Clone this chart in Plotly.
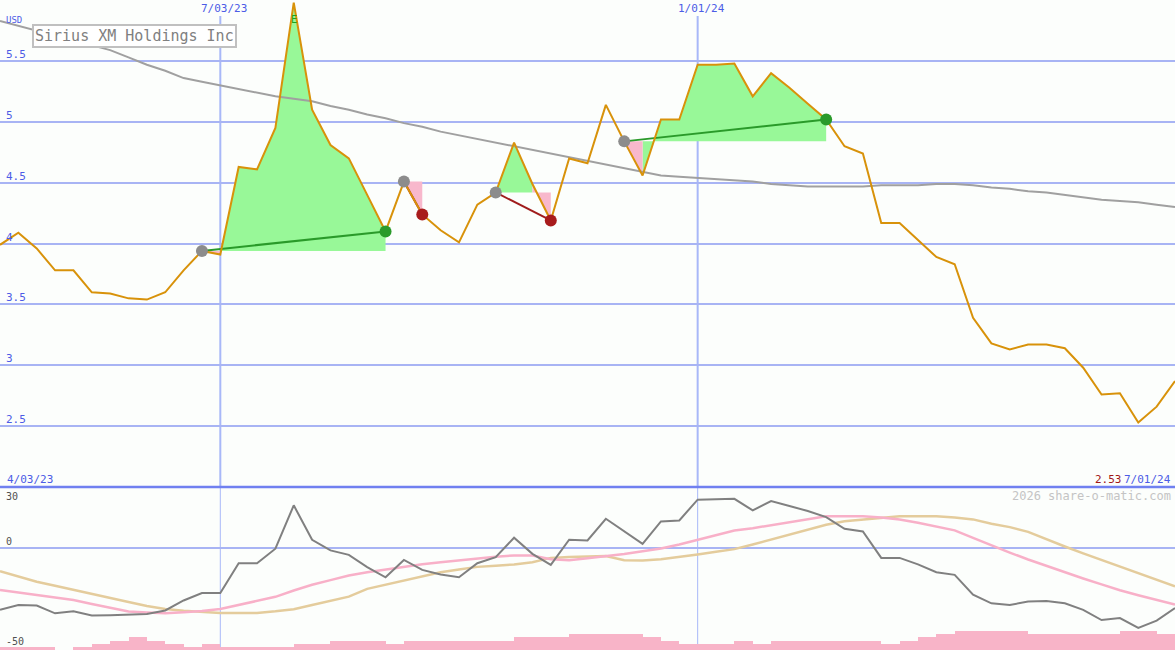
import pandas as pd
import plotly.graph_objects as go

# ---------------- data ----------------
start_date = "2023-04-10"
n_weeks = 65
dates = pd.date_range(start_date, periods=n_weeks, freq="7D")

price = [3.99, 4.09, 3.96, 3.78, 3.78, 3.60, 3.59, 3.55, 3.54, 3.60,
         3.78, 3.94, 3.91, 4.63, 4.61, 4.95, 5.98, 5.10, 4.81, 4.70,
         4.40, 4.10, 4.51, 4.24, 4.11, 4.01, 4.32, 4.42, 4.83, 4.49,
         4.19, 4.70, 4.66, 5.14, 4.84, 4.56, 5.02, 5.02, 5.47, 5.47,
         5.48, 5.21, 5.40, 5.28, 5.15, 5.02, 4.80, 4.74, 4.17, 4.17,
         4.03, 3.89, 3.83, 3.39, 3.18, 3.13, 3.17, 3.17, 3.14, 2.98,
         2.76, 2.77, 2.53, 2.66, 2.87]

moving_avg = [5.83, 5.79, 5.75, 5.71, 5.67, 5.63, 5.59, 5.53, 5.47, 5.42,
              5.36, 5.33, 5.30, 5.27, 5.24, 5.21, 5.19, 5.17, 5.13, 5.10,
              5.06, 5.03, 4.99, 4.96, 4.92, 4.89, 4.86, 4.83, 4.80, 4.77,
              4.74, 4.71, 4.68, 4.65, 4.62, 4.59, 4.56, 4.55, 4.54, 4.53,
              4.52, 4.51, 4.49, 4.48, 4.47, 4.47, 4.47, 4.47, 4.48, 4.48,
              4.48, 4.49, 4.49, 4.48, 4.46, 4.45, 4.43, 4.42, 4.40, 4.38,
              4.36, 4.35, 4.34, 4.32, 4.30]

oscillator = [-30.3, -27.9, -28.2, -32.0, -31.0, -33.1, -32.9, -32.6, -32.3, -30.6,
              -25.7, -22.0, -22.0, -7.4, -7.4, -0.3, 21.0, 4.1, -1.1, -3.3,
              -9.3, -14.3, -5.8, -10.7, -12.9, -14.3, -7.4, -4.4, 5.1, -2.8,
              -8.2, 4.1, 3.8, 14.4, 8.4, 2.1, 13.1, 13.6, 23.8, 24.1,
              24.2, 18.5, 23.1, 20.7, 18.2, 15.2, 9.5, 8.2, -4.8, -4.8,
              -8.0, -11.8, -13.1, -22.8, -27.1, -27.9, -26.2, -25.9, -27.1, -30.3,
              -35.3, -34.3, -39.2, -35.6, -29.4]

osc_fast = [-20.5, -21.7, -23.0, -24.3, -25.5, -27.4, -29.4, -31.1, -31.6, -32.0,
            -31.5, -30.9, -29.9, -28.0, -25.9, -23.9, -20.8, -18.0, -15.7, -13.4,
            -11.8, -10.4, -9.0, -7.9, -6.9, -5.9, -4.9, -4.2, -3.6, -3.6,
            -5.5, -6.0, -5.0, -4.0, -2.9, -1.5, -0.2, 1.8, 4.1, 6.2,
            8.6, 9.8, 11.3, 12.5, 14.3, 15.6, 15.6, 15.6, 15.0, 14.1,
            12.5, 10.6, 8.7, 5.0, 1.3, -2.2, -5.6, -8.8, -11.8, -14.9,
            -17.8, -20.7, -23.1, -25.3, -27.7]

osc_slow = [-11.3, -13.8, -16.5, -18.5, -20.4, -22.5, -24.4, -26.4, -28.4, -29.9,
            -30.7, -31.3, -31.8, -31.8, -31.8, -31.0, -30.0, -27.9, -25.9, -23.8,
            -20.0, -17.9, -15.8, -13.7, -11.8, -10.5, -9.2, -8.6, -8.0, -6.9,
            -4.8, -4.3, -4.0, -3.9, -5.9, -6.1, -5.5, -4.4, -3.1, -1.8,
            -0.5, 1.8, 4.2, 6.5, 9.0, 11.5, 13.2, 14.1, 15.0, 15.7,
            15.7, 15.7, 15.0, 14.1, 12.0, 10.3, 8.0, 4.3, 0.8, -2.6,
            -5.8, -9.0, -12.2, -15.3, -18.8]

volume_level = [1, 1, 1, 0, 1, 2, 3, 4, 3, 2,
                1, 2, 1, 1, 1, 1, 2, 2, 3, 3,
                3, 2, 3, 3, 3, 3, 3, 3, 4, 4,
                4, 5, 5, 5, 5, 4, 3, 2, 2, 2,
                3, 2, 3, 3, 3, 3, 3, 3, 2, 3,
                4, 5, 6, 6, 6, 6, 5, 5, 5, 5,
                5, 6, 6, 5, 5]

entry_idx = [11, 22, 27, 34]
exit_idx = [21, 23, 30, 45]

price_ticks = [2.5, 3.0, 3.5, 4.0, 4.5, 5.0, 5.5]
price_tick_labels = ["2.5", "3", "3.5", "4", "4.5", "5", "5.5"]
vline_dates = ["2023-07-03", "2024-01-01"]
vline_labels = ["7/03/23", "1/01/24"]
start_label = "4/03/23"
end_label = "7/01/24"
title = "Sirius XM Holdings Inc"
event_idx = 16
event_label = "E"

# ---------------- styles ----------------
W, H = 1175, 650
LOWER_H = 163
split = LOWER_H / H
BG = "#fcfefc"
GRID = "#a8b4f4"
BLUE_TXT = "#4c5ce6"
GREEN_FILL = "#98f898"
PINK_FILL = "#f8b8cc"
MONO = "DejaVu Sans Mono, Liberation Mono, monospace"

fig = go.Figure()

# trade fills (per weekly segment, colored by segment end vs entry)
for color, want_up in [(GREEN_FILL, True), (PINK_FILL, False)]:
    xs, ys = [], []
    for e, x in zip(entry_idx, exit_idx):
        ep = price[e]
        for j in range(e, x):
            up = price[j + 1] >= ep
            if up != want_up:
                continue
            xs += [dates[j], dates[j], dates[j + 1], dates[j + 1], dates[j], None]
            ys += [ep, price[j], price[j + 1], ep, ep, None]
    fig.add_trace(go.Scatter(x=xs, y=ys, fill="toself", fillcolor=color,
                             mode="none", hoverinfo="skip", yaxis="y"))

# moving average
fig.add_trace(go.Scatter(x=dates, y=moving_avg, mode="lines",
                         line=dict(color="#a0a0a0", width=2), yaxis="y"))

# trade lines
for e, x in zip(entry_idx, exit_idx):
    win = price[x] > price[e]
    fig.add_trace(go.Scatter(x=[dates[e], dates[x]], y=[price[e], price[x]],
                             mode="lines",
                             line=dict(color="#2a9a2a" if win else "#a01c1c", width=2),
                             yaxis="y"))

# price line
fig.add_trace(go.Scatter(x=dates, y=price, mode="lines",
                         line=dict(color="#d8920a", width=2), yaxis="y"))

# markers
fig.add_trace(go.Scatter(x=[dates[e] for e in entry_idx], y=[price[e] for e in entry_idx],
                         mode="markers", marker=dict(color="#8c8c8c", size=12), yaxis="y"))
exit_colors = ["#2a9a2a" if price[x] > price[e] else "#a81c1c" for e, x in zip(entry_idx, exit_idx)]
fig.add_trace(go.Scatter(x=[dates[x] for x in exit_idx], y=[price[x] for x in exit_idx],
                         mode="markers", marker=dict(color=exit_colors, size=12), yaxis="y"))

# volume bars (lower panel, base axis)
fig.add_trace(go.Bar(x=dates, y=volume_level, offset=0, width=7 * 24 * 3600 * 1000,
                     marker=dict(color="#f8b4c8", line=dict(width=0)), yaxis="y2"))

# oscillator lines (overlaying lower panel)
fig.add_trace(go.Scatter(x=dates, y=osc_slow, mode="lines",
                         line=dict(color="#e4cc9c", width=2.5), yaxis="y3"))
fig.add_trace(go.Scatter(x=dates, y=osc_fast, mode="lines",
                         line=dict(color="#f8b0c8", width=2.5), yaxis="y3"))
fig.add_trace(go.Scatter(x=dates, y=oscillator, mode="lines",
                         line=dict(color="#808080", width=2), yaxis="y3"))

shapes = []
shapes.append(dict(type="line", xref="paper", yref="paper", x0=0, x1=1, y0=split, y1=split,
                   line=dict(color="#7080f0", width=2.5), layer="above"))
for d in vline_dates:
    shapes.append(dict(type="line", xref="x", yref="paper", x0=d, x1=d,
                       y0=split, y1=1 - 16 / H, line=dict(color="#a8b8f8", width=2), layer="below"))
    shapes.append(dict(type="line", xref="x", yref="paper", x0=d, x1=d,
                       y0=0, y1=split, line=dict(color="#a8b8f8", width=1), layer="below"))

ann = []
def px_ann(text, x, y, color, size, xanchor="left", yanchor="middle", **kw):
    ann.append(dict(text=text, x=x / W, y=1 - y / H, xref="paper", yref="paper",
                    showarrow=False, xanchor=xanchor, yanchor=yanchor,
                    font=dict(family=MONO, size=size, color=color), **kw))

for v, lab in zip(price_ticks, price_tick_labels):
    ann.append(dict(text=lab, x=4 / W, y=v, xref="paper", yref="y", showarrow=False,
                    xanchor="left", yanchor="bottom", yshift=-2,
                    font=dict(family=MONO, size=11, color=BLUE_TXT)))
px_ann("USD", 4, 20, BLUE_TXT, 9)
for d, lab in zip(vline_dates, vline_labels):
    ann.append(dict(text=lab, x=d, y=1 - 9 / H, xref="x", yref="paper", showarrow=False,
                    xanchor="center", yanchor="middle", xshift=4,
                    font=dict(family=MONO, size=11, color=BLUE_TXT)))
px_ann(start_label, 5, 479, BLUE_TXT, 11)
px_ann(end_label, 1173, 479, BLUE_TXT, 11, xanchor="right")
px_ann(f"{min(price):.2f}", 1124, 479, "#a01818", 11, xanchor="right")
px_ann("2026 share-o-matic.com", 1173, 496, "#c4c4c4", 12, xanchor="right")
px_ann("30", 4, 496, "#505050", 10)
px_ann("0", 4, 541, "#505050", 10)
px_ann("-50", 4, 641, "#505050", 10)
ann.append(dict(text=event_label, x=dates[event_idx], y=1 - 19 / H, xref="x", yref="paper",
                showarrow=False, xanchor="center", yanchor="middle",
                font=dict(family=MONO, size=10, color="#20a020")))
ann.append(dict(text=title, x=32 / W, y=1 - 24 / H, xref="paper", yref="paper",
                showarrow=False, xanchor="left", yanchor="top",
                font=dict(family=MONO, size=15, color="#808080"),
                bgcolor="#ffffff", bordercolor="#c0c0c0", borderwidth=2, borderpad=1))

fig.update_layout(
    width=W, height=H, margin=dict(l=0, r=0, t=0, b=0),
    paper_bgcolor=BG, plot_bgcolor=BG, showlegend=False,
    xaxis=dict(type="date", range=[dates[0], dates[-1]], showgrid=False, zeroline=False,
               showticklabels=False, showline=False, ticks=""),
    yaxis=dict(domain=[split, 1], range=[2, 6.0016], tickvals=price_ticks, showticklabels=False,
               gridcolor=GRID, gridwidth=2, zeroline=False, showline=False, ticks=""),
    yaxis2=dict(domain=[0, split], range=[0, LOWER_H / 3.15], visible=False, showgrid=False),
    yaxis3=dict(overlaying="y2", range=[-50, 30], tickvals=[0], showticklabels=False,
                gridcolor=GRID, gridwidth=2, zeroline=False, showline=False, ticks=""),
    shapes=shapes, annotations=ann, bargap=0,
)

fig.write_html("out.html", config={"displayModeBar": False},
               post_script="document.body.style.margin='0';document.body.style.overflow='hidden';")
